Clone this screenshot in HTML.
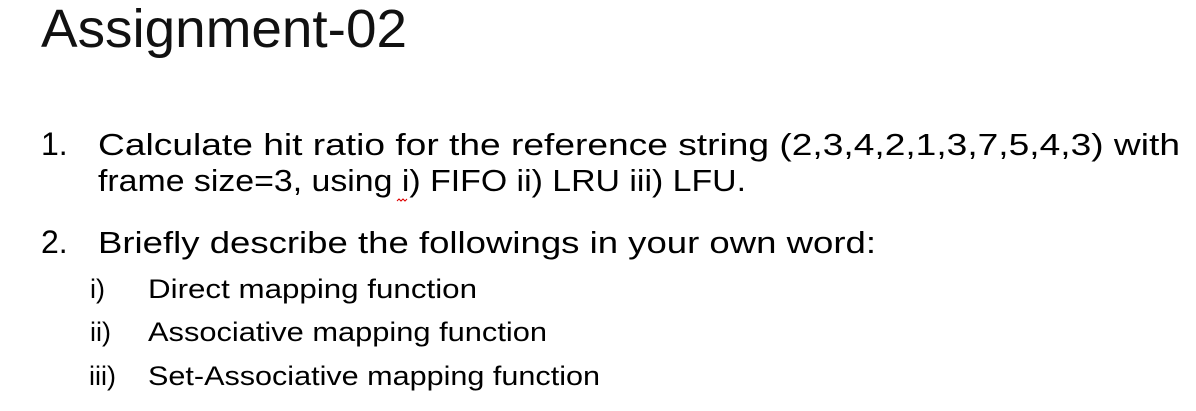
<!DOCTYPE html>
<html><head><meta charset="utf-8"><style>
html,body{margin:0;padding:0;background:#fff;width:1196px;height:411px;overflow:hidden}
svg text{font-family:"Liberation Sans",sans-serif;fill:#000}
</style></head><body>
<svg width="1196" height="411" xmlns="http://www.w3.org/2000/svg">
<text x="41" y="47" font-size="54" textLength="366" lengthAdjust="spacingAndGlyphs" style="fill:#111">Assignment-02</text>
<text x="41" y="155" font-size="32">1.</text>
<text x="98" y="155" font-size="31" textLength="1082" lengthAdjust="spacingAndGlyphs">Calculate hit ratio for the reference string (2,3,4,2,1,3,7,5,4,3) with</text>
<text x="98" y="191" font-size="31" textLength="648" lengthAdjust="spacingAndGlyphs">frame size=3, using i) FIFO ii) LRU iii) LFU.</text>
<path d="M397 201 l2 -2 l2 2 l2 -2 l2 2 l2 -2" stroke="#d00" stroke-width="1" fill="none"/>
<text x="41" y="253" font-size="32">2.</text>
<text x="98" y="253" font-size="31" textLength="778" lengthAdjust="spacingAndGlyphs">Briefly describe the followings in your own word:</text>
<text x="90" y="298" font-size="27">i)</text>
<text x="148" y="298" font-size="27" textLength="329" lengthAdjust="spacingAndGlyphs">Direct mapping function</text>
<text x="90" y="341" font-size="27">ii)</text>
<text x="148" y="341" font-size="27" textLength="399" lengthAdjust="spacingAndGlyphs">Associative mapping function</text>
<text x="89" y="385" font-size="27">iii)</text>
<text x="148" y="385" font-size="27" textLength="452" lengthAdjust="spacingAndGlyphs">Set-Associative mapping function</text>
</svg>
</body></html>
